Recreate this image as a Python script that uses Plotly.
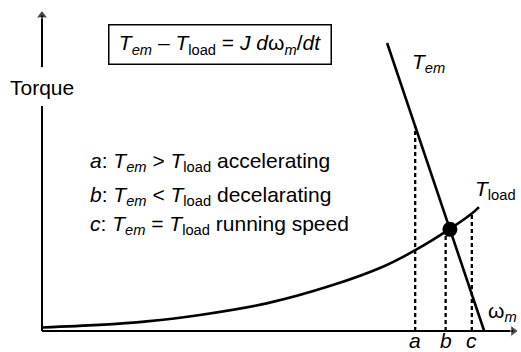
import numpy as np
import plotly.graph_objects as go

# Data (arbitrary units: speed 0-100, torque 0-100)
tem_w = [72.5, 92.9]
tem_T = [89.7, 0.0]
load_w = [0, 12, 22, 33.2, 47.2, 61.1, 71.6, 78.7, 85.7, 90.3, 91.8]
load_T = [1.1, 1.9, 3.0, 5.0, 8.6, 14.3, 20.0, 25.4, 31.8, 36.6, 38.6]
mark_w = [78.4, 84.8, 90.3]
mark_labels = ["a", "b", "c"]
op_w = 85.7  # operating point

def tem(w):
    return np.interp(w, tem_w, tem_T)

def tload(w):
    return np.interp(w, load_w, load_T)

mark_top = [float(tem(mark_w[0])), float(tload(op_w)), float(tload(mark_w[2]))]

FONT = "Arial, Liberation Sans, Helvetica, sans-serif"
FS = 21
BLK = "black"

fig = go.Figure()

# axes (drawn as lines with arrow heads)
fig.add_trace(go.Scatter(x=[0, 99.0], y=[0, 0], mode="lines+markers", cliponaxis=False,
                         line=dict(color=BLK, width=2),
                         marker=dict(symbol="triangle-right", size=[0, 10], color=BLK), hoverinfo="skip"))
fig.add_trace(go.Scatter(x=[0, 0], y=[0, 70.1], mode="lines", cliponaxis=False,
                         line=dict(color=BLK, width=2), hoverinfo="skip"))
fig.add_trace(go.Scatter(x=[0, 0], y=[82.2, 98.3], mode="lines+markers", cliponaxis=False,
                         line=dict(color=BLK, width=2),
                         marker=dict(symbol="triangle-up", size=[0, 10], color=BLK), hoverinfo="skip"))

fig.add_trace(go.Scatter(x=load_w, y=load_T, mode="lines", cliponaxis=False,
                         line=dict(color=BLK, width=2.6, shape="spline", smoothing=1), hoverinfo="skip"))
fig.add_trace(go.Scatter(x=tem_w, y=tem_T, mode="lines", cliponaxis=False,
                         line=dict(color=BLK, width=2.6), hoverinfo="skip"))
for w, top in zip(mark_w, mark_top):
    fig.add_trace(go.Scatter(x=[w, w], y=[0, top], mode="lines",
                             line=dict(color=BLK, width=2.3, dash="4px,3px"), hoverinfo="skip"))
fig.add_trace(go.Scatter(x=[op_w], y=[float(tem(op_w))], mode="markers",
                         marker=dict(color=BLK, size=15), hoverinfo="skip"))

def txt(x, y, t, **kw):
    d = dict(x=x, y=y, text=t, showarrow=False, xref="x", yref="y",
             font=dict(size=kw.pop("size", FS), family=FONT, color=BLK))
    d.update(kw)
    return d

ann = []
ann.append(txt(0, 76.0, "Torque"))
ann.append(txt(37.5, 89.1,
               "<i>T<sub>em</sub></i> – <i>T</i><sub>load</sub> = <i>J d</i>ω<sub><i>m</i></sub>/<i>dt</i>",
               bordercolor=BLK, borderwidth=1.5, borderpad=1, width=219, height=36, bgcolor="white"))
lines = [
    "<i>a</i>: <i>T<sub>em</sub></i> > <i>T</i><sub>load</sub> accelerating",
    "<i>b</i>: <i>T<sub>em</sub></i> < <i>T</i><sub>load</sub> decelarating",
    "<i>c</i>: <i>T<sub>em</sub></i> = <i>T</i><sub>load</sub> running speed",
]
ys = [52.5, 42.0, 33.0]
for t, yv in zip(lines, ys):
    ann.append(txt(9.66, yv, t, xanchor="left"))
ann.append(txt(81.3, 83.5, "<i>T<sub>em</sub></i>"))
ann.append(txt(95.3, 43.9, "<i>T</i><sub>load</sub>"))
ann.append(txt(96.8, 5.9, "ω<sub><i>m</i></sub>"))
for w, lab in zip(mark_w, mark_labels):
    ann.append(txt(w, -2.9, f"<i>{lab}</i>"))

fig.update_layout(
    width=521, height=352,
    margin=dict(l=0, r=0, t=0, b=0),
    paper_bgcolor="white", plot_bgcolor="white",
    showlegend=False,
    xaxis=dict(range=[-8.82, 100.63], visible=False, fixedrange=True),
    yaxis=dict(range=[-6.54, 103.1], visible=False, fixedrange=True),
    annotations=ann,
)

fig.write_html("out.html", config={"displayModeBar": False},
               post_script="document.body.style.margin='0';document.body.style.overflow='hidden';")
